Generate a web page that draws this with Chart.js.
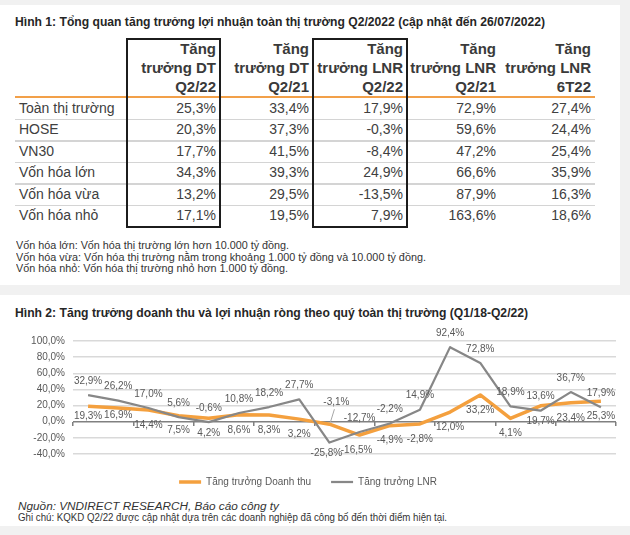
<!DOCTYPE html>
<html lang="vi">
<head>
<meta charset="utf-8">
<title>Tăng trưởng lợi nhuận toàn thị trường Q2/2022</title>
<script src="https://cdn.jsdelivr.net/npm/chart.js@4.4.1/dist/chart.umd.min.js"></script>
<style>
  html, body { margin: 0; padding: 0; }
  body {
    position: relative; width: 630px; height: 535px; overflow: hidden;
    background: #f1f1f1; color: #3c3c3c;
    font-family: 'Liberation Sans', Arial, sans-serif;
  }
  .panel { position: absolute; background: #fff; }
  .abs { position: absolute; white-space: nowrap; }
  .fit { transform-origin: 0 50%; }
  .title { font-weight: bold; font-size: 12px; line-height: 14px; color: #262626; }
  .head { font-weight: bold; font-size: 15px; line-height: 19px; text-align: right; color: #3a3a3a; }
  .cell { font-size: 14px; line-height: 21.4px; color: #404040; }
  .num { text-align: right; }
  .note { font-size: 10px; line-height: 11.5px; color: #333; }
  .rule { position: absolute; left: 15px; width: 580px; }
  .box { position: absolute; box-sizing: border-box; border: 2px solid #1c1c1c; }
  #chart-wrap { position: absolute; left: 0; top: 322px; width: 630px; height: 175px; }
</style>
</head>
<body>
<div class="panel" style="left:0;top:5px;width:620px;height:280px"></div>
<div class="panel" style="left:0;top:295px;width:630px;height:231px"></div>

<div class="abs title fit" data-fit="530" style="left:15px;top:15px">Hình 1: Tổng quan tăng trưởng lợi nhuận toàn thị trường Q2/2022 (cập nhật đến 26/07/2022)</div>
<div id="table"></div>
<div class="abs note fit" data-fit="273" style="left:16px;top:240px">Vốn hóa lớn: Vốn hóa thị trường lớn hơn 10.000 tỷ đồng.</div>
<div class="abs note fit" data-fit="410" style="left:16px;top:251.5px">Vốn hóa vừa: Vốn hóa thị trường nằm trong khoảng 1.000 tỷ đồng và 10.000 tỷ đồng.</div>
<div class="abs note fit" data-fit="272" style="left:16px;top:263px">Vốn hóa nhỏ: Vốn hóa thị trường nhỏ hơn 1.000 tỷ đồng.</div>

<div class="abs title fit" data-fit="513" style="left:15px;top:306px">Hình 2: Tăng trưởng doanh thu và lợi nhuận ròng theo quý toàn thị trường (Q1/18-Q2/22)</div>
<div id="chart-wrap"><canvas id="growth-chart"></canvas></div>
<div class="abs note fit" data-fit="261" style="left:18px;top:501px;font-style:italic">Nguồn: VNDIRECT RESEARCH, Báo cáo công ty</div>
<div class="abs note fit" data-fit="429" style="left:18px;top:512px">Ghi chú: KQKD Q2/22 được cập nhật dựa trên các doanh nghiệp đã công bố đến thời điểm hiện tại.</div>

<script>
// table (Hinh 1)
var tableHeads = [
  ['Tăng', 'trưởng DT', 'Q2/22'],
  ['Tăng', 'trưởng DT', 'Q2/21'],
  ['Tăng', 'trưởng LNR', 'Q2/22'],
  ['Tăng', 'trưởng LNR', 'Q2/21'],
  ['Tăng', 'trưởng LNR', '6T22']
];
var tableRows = ['Toàn thị trường', 'HOSE', 'VN30', 'Vốn hóa lớn', 'Vốn hóa vừa', 'Vốn hóa nhỏ'];
var tableValues = [
  ['25,3%', '33,4%', '17,9%', '72,9%', '27,4%'],
  ['20,3%', '37,3%', '-0,3%', '59,6%', '24,4%'],
  ['17,7%', '41,5%', '-8,4%', '47,2%', '25,4%'],
  ['34,3%', '39,3%', '24,9%', '66,6%', '35,9%'],
  ['13,2%', '29,5%', '-13,5%', '87,9%', '16,3%'],
  ['17,1%', '19,5%', '7,9%', '163,6%', '18,6%']
];

// chart (Hinh 2)
var quarters = ['Q1/18', 'Q2/18', 'Q3/18', 'Q4/18', 'Q1/19', 'Q2/19', 'Q3/19', 'Q4/19', 'Q1/20',
  'Q2/20', 'Q3/20', 'Q4/20', 'Q1/21', 'Q2/21', 'Q3/21', 'Q4/21', 'Q1/22', 'Q2/22'];
var revenueGrowth = [19.3, 16.9, 14.4, 7.5, 4.2, 8.6, 8.3, 3.2, -3.1,
  -16.5, -4.9, -2.8, 12.0, 33.2, 4.1, 19.7, 23.4, 25.3];
var profitGrowth = [32.9, 26.2, 17.0, 5.6, -0.6, 10.8, 18.2, 27.7, -25.8,
  -12.7, -2.2, 14.9, 92.4, 72.8, 18.9, 13.6, 36.7, 17.9];
var yTicks = [-40, -20, 0, 20, 40, 60, 80, 100];

(function () {
  'use strict';

  var FONT = "'Liberation Sans', Arial, sans-serif";
  var TEXT = '#595959';

  // column edges of the table, page px
  var colEdges = [127, 220, 313, 407, 500, 595];
  var headTop = 39;
  var bodyTop = 98;
  var rowH = 21.4;

  function el(cls, style, text) {
    var d = document.createElement('div');
    d.className = cls;
    d.setAttribute('style', style);
    if (text != null) {
      d.textContent = text;
    }
    return d;
  }

  function buildTable() {
    var host = document.getElementById('table');
    var i, j;
    host.appendChild(el('rule', 'top:96px;height:2px;background:#f2a049'));
    for (i = 1; i < tableRows.length; i++) {
      host.appendChild(el('rule', 'top:' + (bodyTop + rowH * i - 0.5) + 'px;height:1.5px;background:#d4d4d4'));
    }
    for (j = 0; j < tableHeads.length; j++) {
      var left = colEdges[j];
      var w = colEdges[j + 1] - left - 4;
      host.appendChild(el('abs head', 'left:' + left + 'px;top:' + headTop + 'px;width:' + w + 'px',
        null)).innerHTML = tableHeads[j].join('<br>');
    }
    for (i = 0; i < tableRows.length; i++) {
      var top = bodyTop + rowH * i;
      host.appendChild(el('abs cell', 'left:19px;top:' + top + 'px', tableRows[i]));
      for (j = 0; j < tableValues[i].length; j++) {
        var l = colEdges[j];
        host.appendChild(el('abs cell num', 'left:' + l + 'px;top:' + top + 'px;width:' +
          (colEdges[j + 1] - l - 4) + 'px', tableValues[i][j]));
      }
    }
    // the two framed columns
    host.appendChild(el('box', 'left:126px;top:38px;width:95px;height:190px'));
    host.appendChild(el('box', 'left:312px;top:38px;width:96px;height:190px'));
  }

  function fitText() {
    var nodes = document.querySelectorAll('[data-fit]');
    Array.prototype.forEach.call(nodes, function (n) {
      var target = parseFloat(n.getAttribute('data-fit'));
      var w = n.getBoundingClientRect().width;
      if (w > 0) {
        n.style.transform = 'scaleX(' + (target / w).toFixed(3) + ')';
      }
    });
  }

  function pct(v) {
    return v.toFixed(1).replace('.', ',') + '%';
  }

  // where each series puts its value labels, relative to the point
  var labelPlacement = {
    revenue: { dy: 15, special: { 0: [0, 10], 1: [0, 7], 8: [7, -22], 9: [-3, 15] }, leader: { 8: true } },
    profit: { dy: -14, special: { 8: [-3, 11] } }
  };

  var pointLabels = {
    id: 'pointLabels',
    afterDatasetsDraw: function (chart) {
      var ctx = chart.ctx;
      ctx.save();
      ctx.font = '10px ' + FONT;
      ctx.fillStyle = TEXT;
      ctx.textAlign = 'center';
      ctx.textBaseline = 'middle';
      chart.data.datasets.forEach(function (ds, di) {
        var place = labelPlacement[ds.key];
        chart.getDatasetMeta(di).data.forEach(function (pt, i) {
          var shift = place.special[i] || [0, place.dy];
          ctx.fillText(pct(ds.data[i]), pt.x + shift[0], pt.y + shift[1]);
          if (place.leader && place.leader[i]) {
            ctx.beginPath();
            ctx.strokeStyle = '#a6a6a6';
            ctx.lineWidth = 1;
            ctx.moveTo(pt.x + shift[0] - 2, pt.y + shift[1] + 7);
            ctx.lineTo(pt.x + 1, pt.y - 2);
            ctx.stroke();
          }
        });
      });
      ctx.restore();
    }
  };

  function renderChart() {
    var canvas = document.getElementById('growth-chart');
    return new Chart(canvas.getContext('2d'), {
      type: 'line',
      data: {
        labels: quarters,
        datasets: [
          {
            key: 'revenue',
            label: 'Tăng trưởng Doanh thu',
            data: revenueGrowth,
            borderColor: '#f4a03e',
            backgroundColor: '#f4a03e',
            borderWidth: 3.5,
            borderJoinStyle: 'round',
            pointRadius: 0,
            tension: 0,
            order: 2
          },
          {
            key: 'profit',
            label: 'Tăng trưởng LNR',
            data: profitGrowth,
            borderColor: '#878787',
            backgroundColor: '#878787',
            borderWidth: 2.25,
            borderJoinStyle: 'round',
            pointRadius: 0,
            tension: 0,
            order: 1
          }
        ]
      },
      options: {
        responsive: true,
        maintainAspectRatio: false,
        animation: false,
        layout: { padding: { top: 19, right: 14, bottom: 0, left: 0 } },
        scales: {
          x: {
            offset: true,
            grid: { display: false },
            border: { display: false },
            ticks: {
              color: TEXT,
              padding: 6,
              autoSkip: false,
              maxRotation: 0,
              font: { family: FONT, size: 10 }
            },
            afterFit: function (s) { s.height = 3; }
          },
          xz: {
            axis: 'x',
            type: 'category',
            position: { y: 0 },
            offset: true,
            border: { display: false },
            ticks: { display: false },
            grid: {
              offset: true,
              drawOnChartArea: false,
              drawTicks: true,
              tickLength: 4,
              lineWidth: 1.5,
              color: function (c) {
                return c.index === undefined || c.index % 2 === 0 ? '#7f7f7f' : 'rgba(0,0,0,0)';
              }
            }
          },
          y: {
            min: yTicks[0],
            max: yTicks[yTicks.length - 1],
            border: { display: false },
            afterBuildTicks: function (s) {
              s.ticks = yTicks.map(function (v) { return { value: v }; });
            },
            ticks: {
              color: TEXT,
              padding: 8,
              font: { family: FONT, size: 10 },
              callback: function (v) { return pct(v); }
            },
            grid: {
              drawTicks: false,
              lineWidth: 1.5,
              color: function (c) {
                return c.tick && c.tick.value === 0 ? '#808080' : '#d9d9d9';
              }
            },
            afterFit: function (s) { s.width = 73; }
          }
        },
        plugins: {
          legend: {
            position: 'bottom',
            labels: {
              usePointStyle: true,
              pointStyle: 'line',
              pointStyleWidth: 22,
              padding: 20,
              color: TEXT,
              font: { family: FONT, size: 10 },
              sort: function (a, b) { return a.datasetIndex - b.datasetIndex; }
            }
          },
          tooltip: { enabled: false }
        }
      },
      plugins: [pointLabels]
    });
  }

  buildTable();
  fitText();
  renderChart();
})();
</script>
</body>
</html>
